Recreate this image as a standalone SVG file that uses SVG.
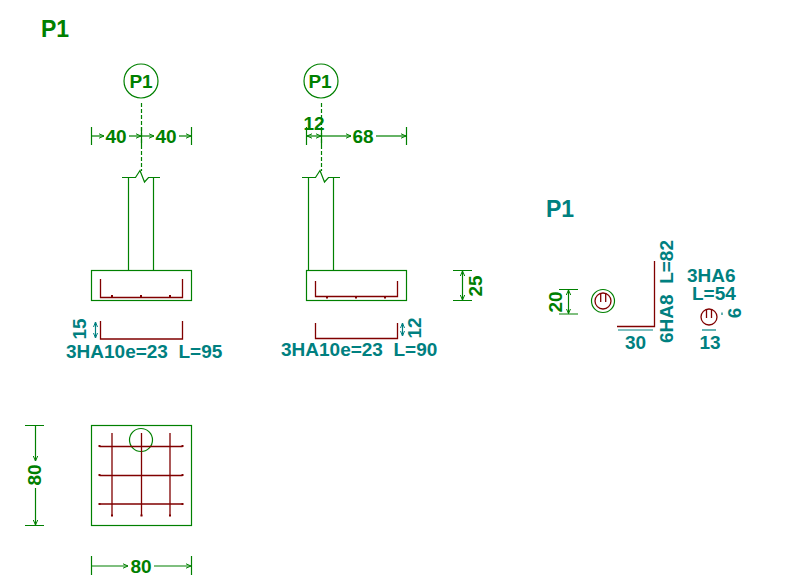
<svg xmlns="http://www.w3.org/2000/svg" width="786" height="582" viewBox="0 0 786 582">
<style>
text{font-family:"Liberation Sans",Arial,sans-serif;font-weight:bold;font-size:19px}
.g{fill:#008000}.t{fill:#008080}
.ln{fill:none;stroke:#008000;stroke-width:1.2}
.tl{fill:none;stroke:#008080;stroke-width:1.2}
.r{fill:none;stroke:#800000;stroke-width:1.3}
.rk{fill:none;stroke:#800000;stroke-width:2}
.da{fill:none;stroke:#008000;stroke-width:1.2;stroke-dasharray:4 2}
.m{text-anchor:middle}
</style>
<defs>
<marker id="a" markerWidth="6" markerHeight="6" refX="5" refY="3" orient="auto-start-reverse" markerUnits="userSpaceOnUse"><path d="M0 .8L5 3L0 5.200" fill="none" stroke="#008000" stroke-width="1"/></marker>
<marker id="at" markerWidth="6" markerHeight="6" refX="5" refY="3" orient="auto-start-reverse" markerUnits="userSpaceOnUse"><path d="M0 1L5 3L0 5" fill="none" stroke="#008080" stroke-width="1"/></marker>
</defs>
<rect width="786" height="582" fill="#fff"/>
<text id="title-green" class="g" x="41" y="37" style="font-size:23px">P1</text>
<text id="title-teal" class="t" x="546" y="217" style="font-size:23px">P1</text>

<g id="section-left">
<circle class="ln" cx="141" cy="81" r="17"/>
<text class="g m" x="141" y="88">P1</text>
<path class="da" d="M141.500 103V171"/>
<path class="ln" d="M122 177.500H135.500L140 170.500L144.500 182L148.500 177.500H160M128.500 177.500V270.500M153.500 177.500V270.500"/>
<rect class="ln" x="91.500" y="270.500" width="100" height="30"/>
<path class="r" d="M100.500 279V297.500H182.500V279"/>
<path class="rk" d="M112 295V297M141 295V297M170 295V297"/>
<path class="ln" d="M91.500 127V145M141.500 127V145M191.500 127V145"/>
<path class="ln" marker-start="url(#a)" d="M104 136H92"/>
<path class="ln" marker-end="url(#a)" d="M129 136H141"/>
<path class="ln" marker-start="url(#a)" d="M154 136H142"/>
<path class="ln" marker-end="url(#a)" d="M179 136H191"/>
<text class="g m" x="116" y="143">40</text>
<text class="g m" x="166" y="143">40</text>
<path class="r" d="M100.500 321V339H182.500V321"/>
<path class="tl" marker-start="url(#at)" marker-end="url(#at)" d="M95.500 322V338"/>
<text class="t m" transform="translate(85.500 329) rotate(-90)">15</text>
<text class="t" x="66" y="358" xml:space="preserve">3HA10e=23  L=95</text>
</g>

<g id="section-right">
<circle class="ln" cx="321" cy="81" r="17"/>
<text class="g m" x="320" y="88">P1</text>
<path class="da" d="M321.500 103V171"/>
<path class="ln" d="M302 177.500H315.500L320 170.500L324.500 182L328.500 177.500H340M308.500 177.500V270.500M333.500 177.500V270.500"/>
<rect class="ln" x="306.500" y="270.500" width="100" height="30"/>
<path class="r" d="M315.500 281V296.500H397.500V281"/>
<path class="rk" d="M327 297V298.500M356 297V298.500M385 297V298.500"/>
<path class="ln" d="M306.500 127V145M321.500 127V145M406.500 127V145"/>
<path class="ln" marker-start="url(#a)" marker-end="url(#a)" d="M307 136H321"/>
<path class="ln" marker-start="url(#a)" d="M351 136H322"/>
<path class="ln" marker-end="url(#a)" d="M376 136H406"/>
<text class="g m" x="314" y="130">12</text>
<text class="g m" x="363" y="143">68</text>
<path class="ln" d="M453 270.500H472M453 300.500H472"/>
<path class="ln" marker-start="url(#a)" marker-end="url(#a)" d="M462.500 271V300"/>
<text class="g m" transform="translate(482 286) rotate(-90)">25</text>
<path class="r" d="M315.500 323V338.500H397.500V323"/>
<path class="tl" marker-start="url(#at)" marker-end="url(#at)" d="M402.500 323V336"/>
<text class="t m" transform="translate(421 328) rotate(-90)">12</text>
<text class="t" x="281" y="356" xml:space="preserve">3HA10e=23  L=90</text>
</g>

<g id="plan">
<rect class="ln" x="91.500" y="425.500" width="100" height="100"/>
<circle class="ln" cx="141" cy="440" r="11.500"/>
<path class="r" d="M99.500 446.500H182.500M99.500 475.500H182.500M99.500 504H182.500M112 433V516M141.500 433V516M170 433V516"/>
<path class="rk" d="M99.500 445V447M182.500 445V447M99.500 474V476M182.500 474V476M99.500 503V505M182.500 503V505M112 514.500V516.500M141.500 514.500V516.500M170 514.500V516.500"/>
<path class="ln" d="M25 425.500H44M25 525.500H44"/>
<path class="ln" marker-start="url(#a)" d="M35.500 461V426"/>
<path class="ln" marker-end="url(#a)" d="M35.500 488V525"/>
<text class="g m" transform="translate(41 475) rotate(-90)">80</text>
<path class="ln" d="M91.500 556V575M191.500 556V575"/>
<path class="ln" marker-start="url(#a)" d="M128 566H92"/>
<path class="ln" marker-end="url(#a)" d="M154 566H191"/>
<text class="g m" x="141" y="573">80</text>
</g>

<g id="column-detail">
<path class="ln" d="M559 289.500H578M559 314H578"/>
<path class="ln" marker-start="url(#a)" marker-end="url(#a)" d="M568.500 290V313.500"/>
<text class="g m" transform="translate(562 302) rotate(-90)">20</text>
<circle class="ln" cx="603" cy="301" r="11.500"/>
<circle class="r" cx="603" cy="301" r="8"/>
<path class="r" d="M600.700 293V302M605.700 293V302"/>
</g>

<g id="rebar-shapes">
<path class="r" d="M654.500 261V326.500H617"/>
<path class="tl" d="M618 330H653"/>
<text class="t m" x="635.500" y="349">30</text>
<text class="t" transform="translate(672.500 343) rotate(-90)" xml:space="preserve">6HA8  L=82</text>
<text class="t" x="687" y="282">3HA6</text>
<text class="t" x="692" y="300">L=54</text>
<circle class="r" cx="709" cy="317" r="8"/>
<path class="r" d="M706.500 309V318M711.500 309V318"/>
<path class="tl" stroke-width="2" d="M722 312.500V315"/>
<text class="t m" transform="translate(741 313) rotate(-90)">6</text>
<path class="tl" d="M702 330H716"/>
<text class="t m" x="710" y="349">13</text>
</g>
</svg>
